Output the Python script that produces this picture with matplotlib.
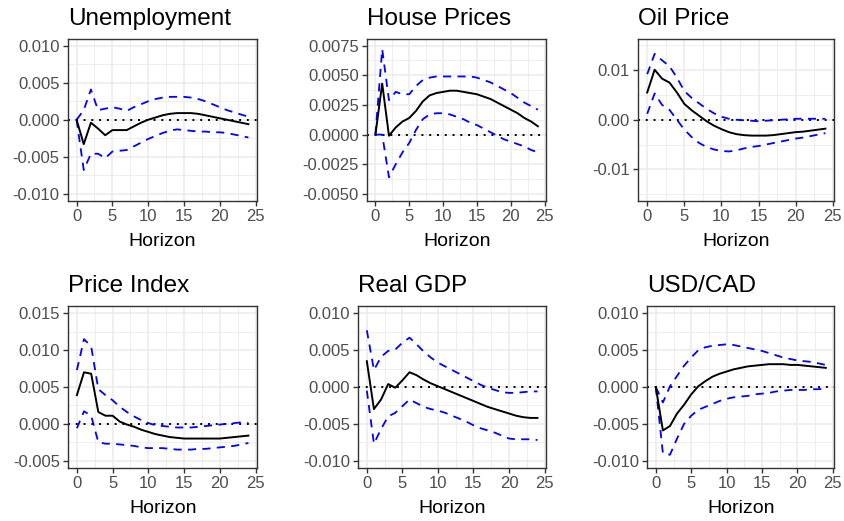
"""Impulse responses with confidence bands, six panels laid out like a ggplot grid."""

import numpy as np
import matplotlib
matplotlib.use("Agg")
import matplotlib.pyplot as plt
from matplotlib.ticker import FormatStrFormatter

plt.rcParams["font.family"] = ["Liberation Sans", "DejaVu Sans"]
plt.rcParams["axes.unicode_minus"] = False

HORIZON = list(range(25))

TITLES = ["Unemployment", "House Prices", "Oil Price", "Price Index", "Real GDP", "USD/CAD"]

# point estimate of each response
IRF_UNEMP = [0, -0.0033, -0.0004, -0.0012, -0.0021, -0.0014, -0.0014, -0.0014, -0.0009, -0.0004,
             0.0000, 0.0003, 0.0006, 0.0008, 0.0009, 0.0009, 0.0009, 0.0008, 0.0006, 0.0004,
             0.0002, 0.0000, -0.0002, -0.0004, -0.0006]
IRF_HOUSE = [0, 0.0043, -0.0001, 0.0006, 0.0011, 0.0014, 0.0020, 0.0028, 0.0033, 0.0035,
             0.0036, 0.0037, 0.0037, 0.0036, 0.0035, 0.0034, 0.0032, 0.0030, 0.0027, 0.0024,
             0.0021, 0.0018, 0.0014, 0.0011, 0.0007]
IRF_OIL = [0.0055, 0.0101, 0.0083, 0.0075, 0.0055, 0.0032, 0.0019, 0.0008, -0.0003, -0.0012,
           -0.0019, -0.0025, -0.0029, -0.0031, -0.0032, -0.0032, -0.0032, -0.0031, -0.0029, -0.0027,
           -0.0025, -0.0024, -0.0022, -0.0020, -0.0018]
IRF_PRICE = [0.0039, 0.0070, 0.0068, 0.0016, 0.0011, 0.0011, 0.0003, -0.0001, -0.0004, -0.0008,
             -0.0011, -0.0014, -0.0016, -0.0018, -0.0019, -0.0020, -0.0020, -0.0020, -0.0020, -0.0020,
             -0.0020, -0.0019, -0.0018, -0.0017, -0.0016]
IRF_GDP = [0.0035, -0.0030, -0.0017, 0.0004, -0.0001, 0.0009, 0.0020, 0.0016, 0.0010, 0.0005,
           0.0001, -0.0003, -0.0007, -0.0011, -0.0015, -0.0019, -0.0023, -0.0027, -0.0030, -0.0033,
           -0.0036, -0.0039, -0.0041, -0.0042, -0.0042]
IRF_FX = [0, -0.0059, -0.0053, -0.0036, -0.0024, -0.0010, 0.0001, 0.0008, 0.0014, 0.0018,
          0.0021, 0.0024, 0.0026, 0.0028, 0.0029, 0.0030, 0.0031, 0.0031, 0.0031, 0.0030,
          0.0030, 0.0029, 0.0028, 0.0027, 0.0026]

# upper band
UP_UNEMP = [0, 0.0013, 0.0041, 0.0013, 0.0015, 0.0017, 0.0015, 0.0012, 0.0017, 0.0021,
            0.0025, 0.0028, 0.0030, 0.0031, 0.0031, 0.0031, 0.0030, 0.0028, 0.0025, 0.0021,
            0.0017, 0.0013, 0.0010, 0.0007, 0.0004]
UP_HOUSE = [0, 0.0072, 0.0029, 0.0036, 0.0034, 0.0034, 0.0041, 0.0046, 0.0048, 0.0049,
            0.0049, 0.0049, 0.0049, 0.0049, 0.0049, 0.0048, 0.0046, 0.0044, 0.0041, 0.0038,
            0.0035, 0.0031, 0.0027, 0.0024, 0.0021]
UP_OIL = [0.0092, 0.0133, 0.0120, 0.0108, 0.0085, 0.0058, 0.0044, 0.0033, 0.0022, 0.0013,
          0.0006, 0.0002, 0.0000, -0.0001, -0.0002, -0.0003, -0.0002, -0.0001, 0.0000, 0.0001,
          0.0002, 0.0002, 0.0002, 0.0002, 0.0002]
UP_PRICE = [0.0073, 0.0115, 0.0105, 0.0047, 0.0039, 0.0032, 0.0023, 0.0016, 0.0010, 0.0005,
            0.0001, -0.0002, -0.0003, -0.0004, -0.0005, -0.0005, -0.0005, -0.0004, -0.0003, -0.0002,
            -0.0001, 0.0000, 0.0001, 0.0002, 0.0001]
UP_GDP = [0.0077, 0.0023, 0.0041, 0.0049, 0.0051, 0.0060, 0.0067, 0.0058, 0.0048, 0.0040,
          0.0033, 0.0028, 0.0023, 0.0018, 0.0013, 0.0008, 0.0003, -0.0001, -0.0004, -0.0007,
          -0.0008, -0.0008, -0.0007, -0.0006, -0.0006]
UP_FX = [0, -0.0021, 0.0001, 0.0015, 0.0029, 0.0040, 0.0050, 0.0054, 0.0056, 0.0057,
         0.0058, 0.0057, 0.0055, 0.0053, 0.0051, 0.0049, 0.0046, 0.0043, 0.0040, 0.0038,
         0.0036, 0.0035, 0.0034, 0.0032, 0.0030]

# lower band
LO_UNEMP = [0, -0.0068, -0.0046, -0.0046, -0.0052, -0.0043, -0.0042, -0.0041, -0.0036, -0.0031,
            -0.0026, -0.0022, -0.0018, -0.0015, -0.0013, -0.0014, -0.0015, -0.0016, -0.0016, -0.0017,
            -0.0017, -0.0018, -0.0020, -0.0022, -0.0024]
LO_HOUSE = [0, 0.0000, -0.0036, -0.0025, -0.0015, -0.0007, 0.0004, 0.0013, 0.0017, 0.0018,
            0.0018, 0.0017, 0.0015, 0.0013, 0.0010, 0.0008, 0.0005, 0.0002, -0.0001, -0.0004,
            -0.0006, -0.0008, -0.0010, -0.0013, -0.0015]
LO_OIL = [0.0012, 0.0053, 0.0030, 0.0020, 0.0000, -0.0020, -0.0035, -0.0047, -0.0055, -0.0060,
          -0.0063, -0.0064, -0.0062, -0.0058, -0.0055, -0.0053, -0.0050, -0.0047, -0.0044, -0.0041,
          -0.0038, -0.0036, -0.0033, -0.0030, -0.0027]
LO_PRICE = [-0.0006, 0.0017, 0.0011, -0.0025, -0.0027, -0.0027, -0.0028, -0.0029, -0.0030, -0.0032,
            -0.0033, -0.0033, -0.0033, -0.0034, -0.0035, -0.0035, -0.0035, -0.0034, -0.0034, -0.0033,
            -0.0032, -0.0031, -0.0030, -0.0028, -0.0026]
LO_GDP = [-0.0005, -0.0077, -0.0057, -0.0040, -0.0035, -0.0026, -0.0017, -0.0022, -0.0027, -0.0030,
          -0.0032, -0.0035, -0.0039, -0.0043, -0.0047, -0.0052, -0.0056, -0.0059, -0.0062, -0.0066,
          -0.0070, -0.0071, -0.0071, -0.0071, -0.0072]
LO_FX = [0, -0.0090, -0.0092, -0.0070, -0.0050, -0.0039, -0.0031, -0.0027, -0.0023, -0.0019,
         -0.0016, -0.0014, -0.0013, -0.0012, -0.0010, -0.0009, -0.0008, -0.0006, -0.0005, -0.0004,
         -0.0004, -0.0004, -0.0003, -0.0003, -0.0002]

IRFS = [IRF_UNEMP, IRF_HOUSE, IRF_OIL, IRF_PRICE, IRF_GDP, IRF_FX]
UPPERS = [UP_UNEMP, UP_HOUSE, UP_OIL, UP_PRICE, UP_GDP, UP_FX]
LOWERS = [LO_UNEMP, LO_HOUSE, LO_OIL, LO_PRICE, LO_GDP, LO_FX]

# y breaks: (first, last, step, label format)
Y_BREAKS = [(-0.01, 0.01, 0.005, "%.3f"),
            (-0.005, 0.0075, 0.0025, "%.4f"),
            (-0.01, 0.01, 0.01, "%.2f"),
            (-0.005, 0.015, 0.005, "%.3f"),
            (-0.01, 0.01, 0.005, "%.3f"),
            (-0.01, 0.01, 0.005, "%.3f")]
Y_LIMS = [(-0.011, 0.011), (-0.0056, 0.0081), (-0.0164, 0.0164),
          (-0.006, 0.016), (-0.011, 0.011), (-0.011, 0.011)]

# panel boxes in pixels: left, top, right, bottom
BOXES = [(68, 38.5, 257, 201), (367.3, 38.5, 546, 201), (638.3, 38.5, 834.3, 201),
         (68.3, 306, 257, 468), (358.3, 306, 546, 468), (647.3, 306, 834.3, 468)]

W, H = 845, 521
fig = plt.figure(figsize=(W / 100, H / 100), dpi=100)

GRID = "#EBEBEB"
for i, title in enumerate(TITLES):
    l, t, r, b = BOXES[i]
    ax = fig.add_axes([l / W, 1 - b / H, (r - l) / W, (b - t) / H])

    lo, hi, step, fmt = Y_BREAKS[i]
    major = np.round(np.arange(lo, hi + step / 2, step), 6)
    minor = np.round(np.arange(lo - step / 2, hi + step, step), 6)
    ymin, ymax = Y_LIMS[i]
    minor = [m for m in minor if ymin <= m <= ymax]

    ax.set_xlim(-1.2, 25.2)
    ax.set_ylim(ymin, ymax)
    ax.set_xticks([0, 5, 10, 15, 20, 25])
    ax.set_yticks(major)
    ax.yaxis.set_major_formatter(FormatStrFormatter(fmt))

    # grid drawn by hand so major and minor lines get ggplot widths
    for xm in [2.5, 7.5, 12.5, 17.5, 22.5]:
        ax.axvline(xm, color=GRID, lw=0.6, zorder=0)
    for ym in minor:
        ax.axhline(ym, color=GRID, lw=0.6, zorder=0)
    for xm in [0, 5, 10, 15, 20, 25]:
        ax.axvline(xm, color=GRID, lw=1.1, zorder=0)
    for ym in major:
        ax.axhline(ym, color=GRID, lw=1.1, zorder=0)

    ax.axhline(0, color="black", lw=1.4, linestyle=(0, (1, 3)), zorder=2)
    ax.plot(HORIZON, UPPERS[i], color="blue", lw=1.3, linestyle=(0, (4.5, 3.5)), zorder=3)
    ax.plot(HORIZON, LOWERS[i], color="blue", lw=1.3, linestyle=(0, (4.5, 3.5)), zorder=3)
    ax.plot(HORIZON, IRFS[i], color="black", lw=1.4, zorder=4)

    for sp in ax.spines.values():
        sp.set_color("#333333")
        sp.set_linewidth(1.0)
    ax.tick_params(length=3.6, width=1.0, color="#333333", labelcolor="#4D4D4D",
                   labelsize=12, pad=2.5)
    ax.set_xlabel("Horizon", fontsize=14, color="black", labelpad=6)
    ax.set_title(title, loc="left", fontsize=17.5, color="black", pad=10)

fig.savefig("out.png", dpi=100)
